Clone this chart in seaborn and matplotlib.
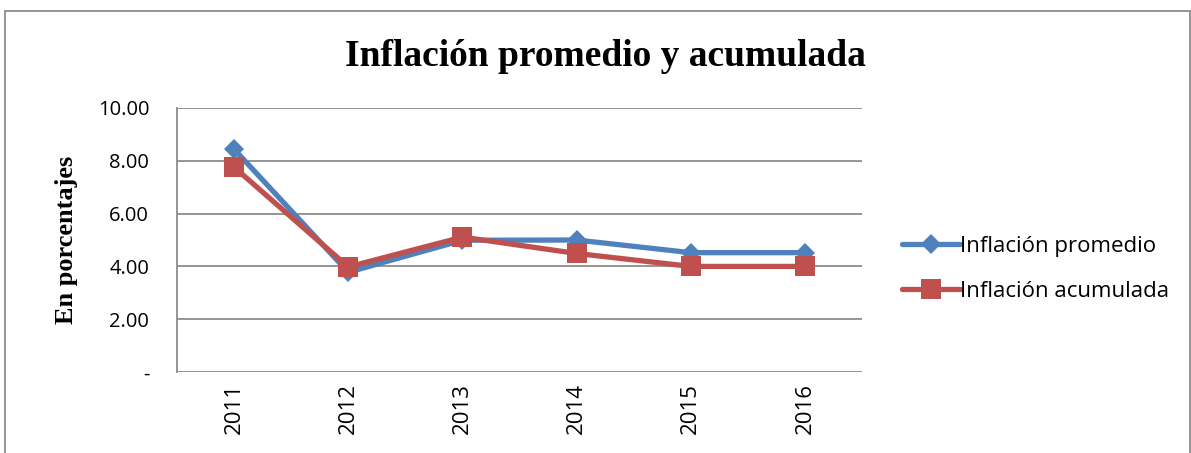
import matplotlib
matplotlib.use("Agg")
import matplotlib.pyplot as plt
import matplotlib.patches as mpatches
import seaborn as sns
import pandas as pd

# datos
anios = ["2011", "2012", "2013", "2014", "2015", "2016"]
inflacion_promedio = [8.44, 3.78, 4.99, 5.00, 4.52, 4.52]
inflacion_acumulada = [7.76, 3.98, 5.11, 4.49, 4.00, 4.00]
series = ["Inflación promedio", "Inflación acumulada"]
yticks = [0, 2, 4, 6, 8, 10]
ytick_labels = ["-", "2.00", "4.00", "6.00", "8.00", "10.00"]

df = pd.DataFrame({
    "anio": anios * 2,
    "valor": inflacion_promedio + inflacion_acumulada,
    "serie": [series[0]] * len(anios) + [series[1]] * len(anios),
})

sns.set_style("white")
plt.rcParams["font.family"] = ["Open Sans", "DejaVu Sans"]
plt.rcParams["text.color"] = "black"
plt.rcParams["xtick.color"] = "black"
plt.rcParams["ytick.color"] = "black"
plt.rcParams["axes.labelcolor"] = "black"

fig = plt.figure(figsize=(11.91, 4.53), dpi=100)
ax = fig.add_axes([0.1486, 0.1788, 0.5752, 0.5828])

colores = {series[0]: "#4F81BD", series[1]: "#C0504D"}
marcas = {series[0]: "D", series[1]: "s"}
sizes = {series[0]: 10, series[1]: 14}

for s in series:
    sub = df[df["serie"] == s]
    sns.lineplot(data=sub, x="anio", y="valor", ax=ax, color=colores[s],
                 marker=marcas[s], markersize=sizes[s], linewidth=3.8,
                 markeredgewidth=0, label=s, sort=False)

ax.set_xlim(-0.5, 5.5)
ax.set_ylim(0, 10)
ax.set_yticks(yticks)
ax.set_yticklabels(ytick_labels, fontsize=14.5)
ax.tick_params(axis="x", labelrotation=90, labelsize=16, length=0, pad=8)
ax.tick_params(axis="y", length=0, pad=20)
ax.grid(axis="y", color="#8c8c8c", linewidth=1.3)
ax.set_axisbelow(True)
for side in ["top", "right", "bottom"]:
    ax.spines[side].set_visible(False)
ax.spines["left"].set_color("#8c8c8c")
ax.spines["left"].set_linewidth(1.3)

ax.set_xlabel("")
ax.set_ylabel("En porcentajes", fontsize=19, fontweight="bold",
              family="Liberation Serif", labelpad=14)
fig.text(0.508, 0.875, "Inflación promedio y acumulada", ha="center", va="center",
         fontsize=27, fontweight="bold", family="Liberation Serif")

ax.legend(loc="center left", bbox_to_anchor=(1.058, 0.39), frameon=False,
          fontsize=16, handlelength=2.6, handletextpad=0.0, labelspacing=1.1,
          borderpad=0, borderaxespad=0)

fig.patches.append(mpatches.Rectangle((0.004, -0.01), 0.995, 0.985,
                                      transform=fig.transFigure, fill=False,
                                      edgecolor="#8c8c8c", linewidth=1.3))

fig.savefig("out.png", dpi=100)
